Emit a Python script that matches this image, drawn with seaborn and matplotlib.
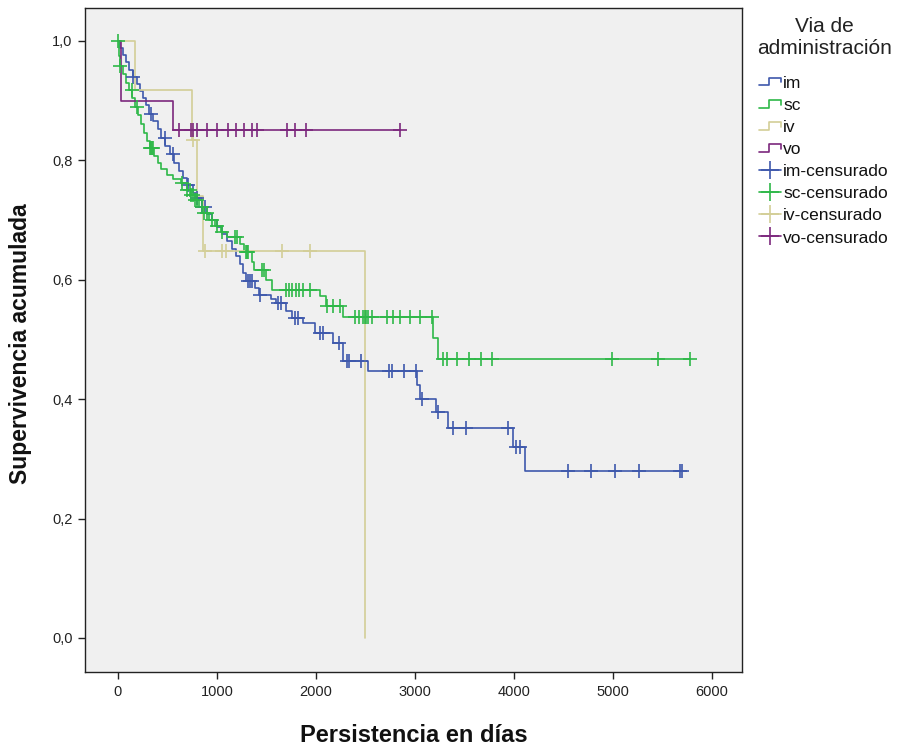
import numpy as np
import pandas as pd
import matplotlib
matplotlib.use("Agg")
import matplotlib.pyplot as plt
import seaborn as sns
from matplotlib.lines import Line2D
from matplotlib.legend_handler import HandlerBase

# ---------------- data ----------------
groups = ["im", "sc", "iv", "vo"]
colors = ["#3E58AC", "#2EB848", "#D3CE97", "#7C287D"]

im_t = [0, 25, 50, 80, 110, 150, 190, 220, 250, 280, 310, 350, 400, 440, 480, 530, 570, 620,
        660, 700, 760, 790, 850, 900, 950, 1000, 1050, 1100, 1150, 1190, 1230, 1260, 1290,
        1380, 1420, 1550, 1600, 1700, 1760, 1870, 1990, 2175, 2276, 2528, 3016, 3050, 3212,
        3333, 3990, 4111, 5697]
im_s = [1.0, 0.988, 0.976, 0.964, 0.952, 0.940, 0.928, 0.916, 0.904, 0.892, 0.878, 0.866,
        0.852, 0.838, 0.824, 0.810, 0.796, 0.782, 0.770, 0.758, 0.745, 0.737, 0.722, 0.710,
        0.700, 0.688, 0.676, 0.664, 0.652, 0.640, 0.626, 0.612, 0.598, 0.586, 0.575, 0.568,
        0.561, 0.548, 0.536, 0.527, 0.510, 0.494, 0.464, 0.447, 0.424, 0.401, 0.378, 0.352,
        0.320, 0.280, 0.280]
im_c = [155, 333, 475, 559, 710, 795, 850, 880, 1310, 1330, 1350, 1434, 1620, 1650, 1790,
        1820, 2040, 2070, 2236, 2310, 2330, 2460, 2740, 2764, 2890, 3010, 3067, 3229, 3380,
        3515, 3936, 4020, 4060, 4543, 4778, 5023, 5259, 5677, 5697]

sc_t = [0, 10, 20, 50, 80, 110, 140, 170, 200, 230, 260, 290, 320, 360, 400, 440, 500, 560,
        640, 700, 740, 780, 820, 870, 920, 980, 1040, 1100, 1230, 1270, 1350, 1370, 1500,
        1560, 2040, 2100, 2276, 3185, 3235, 5778]
sc_s = [1.0, 0.975, 0.958, 0.945, 0.930, 0.918, 0.905, 0.890, 0.875, 0.860, 0.845, 0.832,
        0.820, 0.808, 0.795, 0.785, 0.775, 0.768, 0.762, 0.750, 0.742, 0.733, 0.722, 0.712,
        0.700, 0.690, 0.680, 0.672, 0.660, 0.647, 0.630, 0.616, 0.600, 0.583, 0.572, 0.556,
        0.538, 0.502, 0.467, 0.467]
sc_c = [0, 20, 138, 189, 320, 330, 340, 350, 643, 700, 727, 740, 760, 780, 800, 850, 870,
        900, 950, 1000, 1050, 1182, 1199, 1290, 1300, 1310, 1460, 1480, 1700, 1730, 1760,
        1800, 1830, 1870, 1940, 2108, 2175, 2242, 2394, 2437, 2478, 2495, 2510, 2530, 2563,
        2714, 2781, 2848, 2949, 3050, 3168, 3286, 3320, 3421, 3549, 3664, 3775, 4987, 5458,
        5778]

iv_t = [0, 172, 751, 800, 855, 2495]
iv_s = [1.0, 0.917, 0.834, 0.741, 0.648, 0.0]
iv_c = [760, 879, 1047, 1091, 1659, 1939]

vo_t = [0, 30, 560, 2848]
vo_s = [1.0, 0.900, 0.851, 0.851]
vo_c = [616, 734, 761, 801, 896, 1003, 1108, 1192, 1273, 1354, 1401, 1704, 1788, 1896, 2848]

curves = {"im": (im_t, im_s, im_c), "sc": (sc_t, sc_s, sc_c),
          "iv": (iv_t, iv_s, iv_c), "vo": (vo_t, vo_s, vo_c)}

line_rows, cens_rows = [], []
for g in groups:
    t, s, c = curves[g]
    for ti, si in zip(t, s):
        line_rows.append((g, ti, si))
    t_arr, s_arr = np.asarray(t), np.asarray(s)
    for ci in c:
        idx = np.searchsorted(t_arr, ci, side="right") - 1
        cens_rows.append((g, ci, s_arr[idx]))
lines_df = pd.DataFrame(line_rows, columns=["grupo", "dias", "surv"])
cens_df = pd.DataFrame(cens_rows, columns=["grupo", "dias", "surv"])

# ---------------- plot ----------------
sns.set_theme(style="white")
plt.rcParams["font.family"] = ["Liberation Sans", "DejaVu Sans"]

fig = plt.figure(figsize=(9.0, 7.49), dpi=100)
ax = fig.add_axes([0.0944, 0.1028, 0.7300, 0.8865])
ax.set_facecolor("#F0F0F0")

pal = dict(zip(groups, colors))
sns.lineplot(data=lines_df, x="dias", y="surv", hue="grupo", hue_order=groups,
             palette=pal, estimator=None, sort=False, drawstyle="steps-post",
             linewidth=1.2, legend=False, ax=ax)
for g in groups:
    sub = cens_df[cens_df["grupo"] == g]
    ax.plot(sub["dias"], sub["surv"], linestyle="none", marker="+",
            markersize=10, markeredgewidth=1.2, color=pal[g])

ax.set_xlim(-333, 6303)
ax.set_ylim(-0.057, 1.055)
ax.set_xticks([0, 1000, 2000, 3000, 4000, 5000, 6000])
ax.set_xticklabels(["0", "1000", "2000", "3000", "4000", "5000", "6000"])
yt = [0.0, 0.2, 0.4, 0.6, 0.8, 1.0]
ax.set_yticks(yt)
ax.set_yticklabels([f"{v:.1f}".replace(".", ",") for v in yt])
ax.tick_params(axis="both", which="major", direction="out", length=5, width=1,
               color="#222222", labelsize=10.5, labelcolor="#222222", pad=4,
               bottom=True, left=True)
for sp in ax.spines.values():
    sp.set_color("#222222")
    sp.set_linewidth(1.0)
ax.set_xlabel("Persistencia en días", fontsize=17, fontweight="bold", labelpad=18,
              color="#111111")
ax.set_ylabel("Supervivencia acumulada", fontsize=16.5, fontweight="bold",
              color="#111111")
ax.yaxis.set_label_coords(-0.08, 0.495)


class StepHandler(HandlerBase):
    def create_artists(self, legend, orig_handle, xdescent, ydescent, width, height,
                       fontsize, trans):
        w, h = width, height
        xs = [-xdescent, -xdescent + 0.45 * w, -xdescent + 0.45 * w, -xdescent + w,
              -xdescent + w]
        ys = [-ydescent + 0.2 * h, -ydescent + 0.2 * h, -ydescent + 0.85 * h,
              -ydescent + 0.85 * h, -ydescent + 0.45 * h]
        ln = Line2D(xs, ys, color=orig_handle.get_color(), linewidth=1.2)
        ln.set_transform(trans)
        return [ln]


handles, labels, hmap = [], [], {}
for g in groups:
    h = Line2D([], [], color=pal[g])
    handles.append(h)
    labels.append(g)
    hmap[h] = StepHandler()
for g in groups:
    handles.append(Line2D([], [], color=pal[g], marker="+", markersize=13,
                          markeredgewidth=1.2, linestyle="-", linewidth=1.2))
    labels.append(f"{g}-censurado")

leg = fig.legend(handles, labels, handler_map=hmap, title="Via de\nadministración",
                 loc="upper left", bbox_to_anchor=(0.833, 0.987), frameon=False,
                 fontsize=12.5, title_fontsize=15, handlelength=1.26, handletextpad=0.12,
                 labelspacing=0.4, borderaxespad=0)
leg._legend_box.align = "center"
leg._legend_box.sep = 13
leg.get_title().set_multialignment("center")
leg.get_title().set_color("#222222")
leg.get_title().set_linespacing(1.2)
for t in leg.get_texts():
    t.set_color("#111111")

fig.savefig("out.png", dpi=100, facecolor="white")
